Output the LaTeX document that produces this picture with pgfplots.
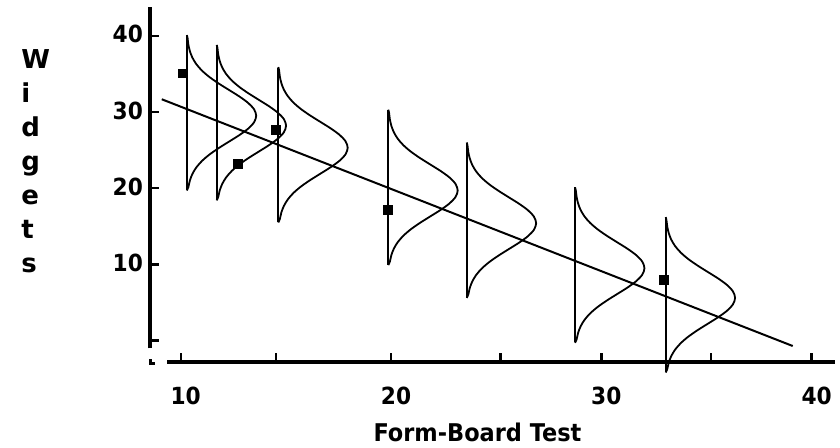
\documentclass[border=0pt]{standalone}
\usepackage{pgfplots}
\pgfplotsset{compat=1.18}
\usepackage{pgfplotstable}
\usepackage{fontspec}
\setmainfont{DejaVu Sans}
\newfontfamily\narrowfont[FakeStretch=0.92]{DejaVu Sans}

% shape of the drawn normal curves: d = vertical offset from peak, f = horizontal extent
\pgfplotstableread{
d f
-9.8 0
-9.35 0.075
-8.5 0.145
-7.65 0.263
-6.8 0.447
-5.95 0.714
-5.1 1.071
-4.25 1.511
-3.4 2.001
-2.55 2.491
-1.7 2.912
-0.85 3.198
0 3.30
0.85 3.198
1.7 2.912
2.55 2.491
3.4 2.001
4.25 1.511
5.1 1.071
5.95 0.714
6.8 0.447
7.65 0.263
8.5 0.145
9.35 0.075
10.2 0.037
10.6 0
}\shape

\begin{document}
\begin{tikzpicture}
\path[use as bounding box] (-75pt,-42.35pt) rectangle (345pt,181.15pt);
\begin{axis}[
  at={(0,0)}, anchor=south west,
  scale only axis, width=342.5pt, height=177.8pt,
  xmin=8.54, xmax=41.11, ymin=-2.86, ymax=43.82,
  axis lines*=left, clip=false,
  axis line style={line width=2pt, black},
  x axis line style={shorten <=8.65pt},
  y axis line style={shorten <=7pt},
  tick align=inside, major tick length=4.5pt,
  tick style={line width=1.2pt, black},
  xtick={10,20,30,40}, xticklabels={10,20,30,40},
  extra x ticks={14.53,25.2,35.2}, extra x tick labels={},
  ytick={0,10,20,30,40}, yticklabels={,10,20,30,40},
  xticklabel style={anchor=north, inner sep=0pt, yshift=-12.2pt, xshift=2.5pt,
    font=\narrowfont\bfseries\fontsize{11.8}{13}\selectfont},
  yticklabel style={anchor=east, inner sep=0pt, xshift=-3.35pt, yshift=0.75pt,
    font=\narrowfont\bfseries\fontsize{11.8}{13}\selectfont},
]
% regression line
\addplot[black, line width=1pt] coordinates {(9.10,31.67) (39.10,-0.72)};

% vertical lines
\addplot[black, line width=1pt] coordinates {(10.29,19.7) (10.29,40.1)};
\addplot[black, line width=1pt] coordinates {(11.71,18.4) (11.71,38.8)};
\addplot[black, line width=1pt] coordinates {(14.64,15.5) (14.64,35.8)};
\addplot[black, line width=1pt] coordinates {(19.87,9.9) (19.87,30.2)};
\addplot[black, line width=1pt] coordinates {(23.60,5.6) (23.60,25.9)};
\addplot[black, line width=1pt] coordinates {(28.75,-0.2) (28.75,20.1)};
\addplot[black, line width=1pt] coordinates {(33.06,-4.1) (33.06,16.0)};

% normal curves
\addplot[black, line width=0.9pt, smooth] table[x expr=\thisrow{f}+10.29, y expr=\thisrow{d}+29.5] {\shape};
\addplot[black, line width=0.9pt, smooth] table[x expr=\thisrow{f}+11.71, y expr=\thisrow{d}+28.2] {\shape};
\addplot[black, line width=0.9pt, smooth] table[x expr=\thisrow{f}+14.64, y expr=\thisrow{d}+25.3] {\shape};
\addplot[black, line width=0.9pt, smooth] table[x expr=\thisrow{f}+19.87, y expr=\thisrow{d}+19.7] {\shape};
\addplot[black, line width=0.9pt, smooth] table[x expr=\thisrow{f}+23.60, y expr=\thisrow{d}+15.4] {\shape};
\addplot[black, line width=0.9pt, smooth] table[x expr=\thisrow{f}+28.75, y expr=\thisrow{d}+9.5] {\shape};
\addplot[black, line width=0.9pt, smooth] table[x expr=\thisrow{f}+33.06, y expr=\thisrow{d}+5.6] {\shape};

% data points
\addplot[only marks, mark=square*, mark size=2.2pt, black] coordinates {
  (10.12,35.07) (12.71,23.17) (14.52,27.63) (19.87,17.13) (32.98,7.94)
};
\end{axis}
% small corner mark
\fill[black] (-0.4pt,-1.3pt) rectangle (0.9pt,1.6pt);
\fill[black] (0.9pt,-1.3pt) rectangle (2.4pt,0pt);
% stacked y label
\foreach \l [count=\i from 0] in {W,i,d,g,e,t,s}
  \node[anchor=base west, inner sep=0pt, font=\bfseries\fontsize{13}{15}\selectfont]
    at (-64.5pt, {147.15pt-\i*17pt}) {\l};
\node[anchor=base, inner sep=0pt, font=\narrowfont\bfseries\fontsize{12.2}{14}\selectfont]
  at (163.75pt,-39.7pt) {Form-Board Test};
\end{tikzpicture}
\end{document}
